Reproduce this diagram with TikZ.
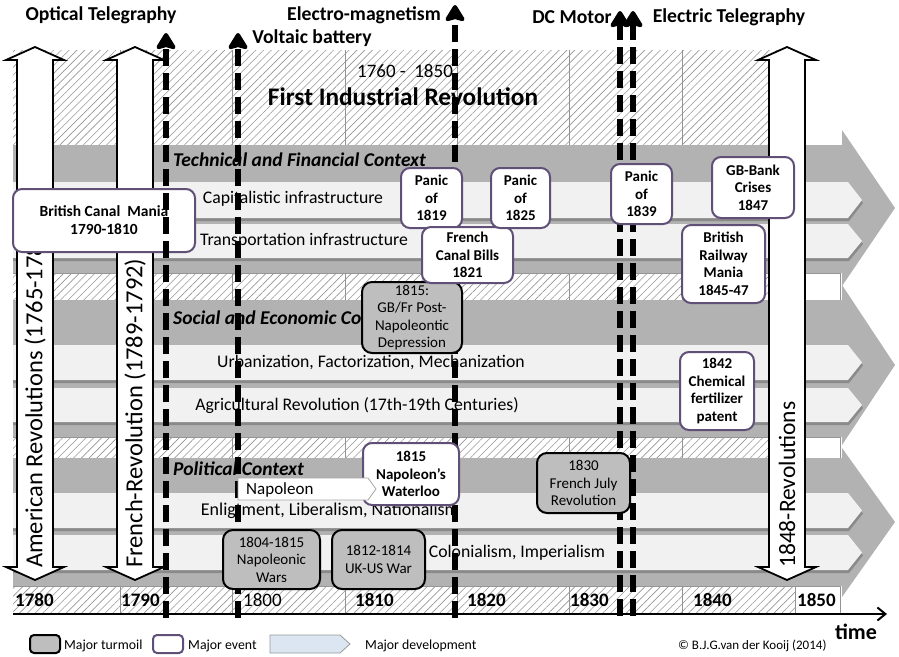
\documentclass[tikz,border=0pt]{standalone}
\usepackage{fontspec}
\setmainfont{Carlito}
\usetikzlibrary{arrows.meta,patterns.meta}

\definecolor{bandgray}{RGB}{178,178,178}
\definecolor{barlight}{RGB}{241,241,241}
\definecolor{barshadow}{RGB}{138,138,138}
\definecolor{hatchgray}{RGB}{150,150,150}
\definecolor{evcol}{RGB}{96,80,120}
\definecolor{turmfill}{RGB}{190,190,190}
\definecolor{devblue}{RGB}{220,230,242}

\tikzset{
  hatch/.style={pattern={Lines[angle=45,distance=5.5pt,line width=0.6pt]}, pattern color=hatchgray},
  gridline/.style={draw=gray!85, line width=0.7pt},
  evt/.style={draw=evcol, line width=2pt, fill=white, rounded corners=9pt, align=center,
              font=\bfseries\fontsize{15}{17.5}\selectfont, inner sep=0pt},
  turm/.style={draw=black, line width=2pt, fill=turmfill, rounded corners=10pt, align=center,
               font=\fontsize{15}{17.5}\selectfont, inner sep=0pt},
  bartext/.style={font=\fontsize{17.7}{20}\selectfont, inner sep=0pt},
  bandtitle/.style={font=\bfseries\itshape\fontsize{19.5}{22}\selectfont, anchor=west, inner sep=0pt},
  toplabel/.style={font=\bfseries\fontsize{19.7}{22}\selectfont, inner sep=0pt},
  yearlabel/.style={font=\bfseries\fontsize{19}{21}\selectfont, anchor=west, inner sep=0pt},
  revtext/.style={font=\fontsize{24.5}{27}\selectfont, rotate=90, anchor=west, inner sep=0pt},
  whitearrow/.style={draw=black, line width=1.8pt, fill=white, line join=miter},
  dasharrow/.style={line width=6pt, dash pattern=on 17pt off 7pt,
                    -{Stealth[length=19pt,width=23pt,inset=3pt,round]}},
  legendtext/.style={font=\fontsize{13.8}{16}\selectfont, anchor=west, inner sep=0pt}
}

\begin{document}
\begin{tikzpicture}[x=1pt,y=-1pt]
\useasboundingbox (0,0) rectangle (899,656);
\fill[white] (0,0) rectangle (899,656);

% ---- hatched time backdrop with decade columns
\fill[hatch] (13,50) rectangle (795,614);
\foreach \gx in {120,232,345,457,569,682}
  \draw[gridline] (\gx,50) -- (\gx,614);
\foreach \ya/\yb in {273/300,437/458,586/614} {
  \draw[gridline, fill=white] (795,\ya) rectangle (840,\yb);
  \draw[gridline] (13,\ya) -- (795,\ya);
  \draw[gridline] (13,\yb) -- (795,\yb);
}

% ---- three context bands
\fill[bandgray] (13,145) -- (842,145) -- (842,130) -- (895,208) -- (842,286) -- (842,273) -- (13,273) -- cycle;
\fill[bandgray] (13,300) -- (842,300) -- (842,285) -- (895,365) -- (842,445) -- (842,437) -- (13,437) -- cycle;
\fill[bandgray] (13,458) -- (842,458) -- (842,448) -- (895,522) -- (842,597) -- (842,586) -- (13,586) -- cycle;

% ---- development bars inside the bands
\foreach \t/\b in {182/218,224/258,345/380,388/422,493/528,535/570} {
  \fill[barshadow] (13,\t+3) -- (849,\t+3) -- (863,{(\t+\b)/2+3}) -- (849,\b+3) -- (13,\b+3) -- cycle;
  \fill[barlight] (13,\t) -- (848,\t) -- (862,{(\t+\b)/2}) -- (848,\b) -- (13,\b) -- cycle;
}

\node[bandtitle] (t1) at (173,160) {Technical and Financial Context};
\node[bandtitle] (t2) at (173,318) {Social and Economic Context};
\node[bandtitle] (t3) at (173,469) {Political Context};

\node[bartext] (capi) at (293,199) {Capitalistic infrastructure};
\node[bartext] (trans) at (304,241) {Transportation infrastructure};
\node[bartext] (urban) at (371,362) {Urbanization, Factorization, Mechanization};
\node[bartext] (agri) at (357,406) {Agricultural Revolution (17th-19th Centuries)};
\node[bartext, font=\fontsize{18}{20}\selectfont] (enli) at (330,511) {Enligtment, Liberalism, Nationalism};
\node[bartext] (colo) at (517,553) {Colonialism, Imperialism};

% ---- headings above the timeline
\node[toplabel] (optl) at (101,15) {Optical Telegraphy};
\node[toplabel] (elml) at (364,15) {Electro-magnetism};
\node[toplabel] (voll) at (312,38) {Voltaic battery};
\node[toplabel] (dcml) at (572,17) {DC Motor};
\node[toplabel] (etel) at (729,17) {Electric Telegraphy};
\node[font=\fontsize{19}{21}\selectfont, inner sep=0pt] (period) at (405,71) {1760 -~ 1850};
\node[font=\bfseries\fontsize{25.3}{28}\selectfont, inner sep=0pt] (title) at (403,97) {First Industrial Revolution};

% ---- decade labels
\node[yearlabel] (y1780) at (15,600) {1780};
\node[yearlabel] (y1790) at (121,600) {1790};
\node[yearlabel, font=\fontsize{19}{21}\selectfont] (y1800) at (243,600) {1800};
\node[yearlabel] (y1810) at (355,600) {1810};
\node[yearlabel] (y1820) at (467,600) {1820};
\node[yearlabel] (y1830) at (570,600) {1830};
\node[yearlabel] (y1840) at (693,600) {1840};
\node[yearlabel] (y1850) at (797,600) {1850};

% ---- revolutions (double headed block arrows)
\foreach \c in {35,135,787}
  \draw[whitearrow] (\c,47) -- (\c+29,60) -- (\c+18,60) -- (\c+18,567) -- (\c+29,567) -- (\c,580)
        -- (\c-29,567) -- (\c-18,567) -- (\c-18,60) -- (\c-29,60) -- cycle;
\node[revtext] (amrev) at (35,568) {American Revolutions (1765-1783)};
\node[revtext] (frrev) at (135,568) {French-Revolution (1789-1792)};
\node[revtext, font=\fontsize{23.5}{26}\selectfont] (rev48) at (787,568) {1848-Revolutions};

% ---- canal mania
\node[evt, font=\bfseries\fontsize{15.5}{18}\selectfont, minimum width=182pt, minimum height=63pt] (canal) at (104,220.5) {British Canal~ Mania\\1790-1810};

% ---- inventions (dashed arrows)
\coordinate (optb) at (166,618);  \coordinate (optt) at (166,33);
\coordinate (volb) at (238,618);  \coordinate (volt) at (238,33);
\coordinate (elmb) at (455,618);  \coordinate (elmt) at (455,5);
\coordinate (dcab) at (620,616);  \coordinate (dcat) at (620,11);
\coordinate (dcbb) at (633,616);  \coordinate (dcbt) at (633,11);
\draw[dasharrow] (optb) -- (optt);
\draw[dasharrow] (volb) -- (volt);
\draw[dasharrow] (elmb) -- (elmt);
\draw[dasharrow] (dcab) -- (dcat);
\draw[dasharrow] (dcbb) -- (dcbt);

% ---- turmoil
\node[turm, minimum width=100pt, minimum height=71pt] (depr) at (412,317.5) {1815:\\GB/Fr Post-\\Napoleontic\\Depression};
\node[turm, minimum width=93pt, minimum height=60pt] (july) at (583.5,483) {1830\\French July\\Revolution};
\node[turm, minimum width=97pt, minimum height=59pt] (nwars) at (271.5,559.5) {1804-1815\\Napoleonic\\Wars};
\node[turm, minimum width=93pt, minimum height=59pt] (ukus) at (378.5,559.5) {1812-1814\\UK-US War};

% ---- events
\node[evt, minimum width=61pt, minimum height=60pt] (p1819) at (431.5,198) {Panic\\of\\1819};
\node[evt, minimum width=91pt, minimum height=56pt] (fcb) at (467.5,255) {French\\Canal Bills\\1821};
\node[evt, minimum width=59pt, minimum height=60pt] (p1825) at (520.5,198) {Panic\\of\\1825};
\node[evt, minimum width=61pt, minimum height=60pt] (p1839) at (641.5,194) {Panic\\of\\1839};
\node[evt, minimum width=82pt, minimum height=61pt] (gbbank) at (753,187.5) {GB-Bank\\Crises\\1847};
\node[evt, minimum width=83pt, minimum height=78pt] (rail) at (723.5,264) {British\\Railway\\Mania\\1845-47};
\node[evt, minimum width=74pt, minimum height=78pt] (chem) at (717,391) {1842\\Chemical\\fertilizer\\patent};
\node[evt, minimum width=96pt, minimum height=62pt] (water) at (411,474) {1815\\Napoleon’s\\Waterloo};

% ---- Napoleon period arrow
\draw[draw=gray!70, line width=0.8pt, fill=white] (238,478) -- (368,478) -- (376,489) -- (368,500) -- (238,500) -- cycle;
\node[font=\fontsize{17}{19}\selectfont, anchor=west, inner sep=0pt] (napo) at (246,489.5) {Napoleon};

% ---- time axis
\coordinate (ax0) at (13,614);
\coordinate (ax1) at (887,614);
\draw[line width=2pt, -{Straight Barb[length=8pt,width=13pt,line width=2pt]}] (ax0) -- (ax1);
\node[font=\bfseries\fontsize{22}{24}\selectfont, inner sep=0pt] (timel) at (856,632) {time};

% ---- legend
\draw[draw=black, line width=2pt, fill=turmfill, rounded corners=4pt] (30,635) rectangle (60,653);
\node[legendtext] (lg1) at (64,646) {Major turmoil};
\draw[draw=evcol, line width=2pt, fill=white, rounded corners=4pt] (153,635) rectangle (183,653);
\node[legendtext] (lg2) at (188,646) {Major event};
\draw[draw=gray!80, line width=0.8pt, fill=devblue] (270,635) -- (340,635) -- (350,644) -- (340,653) -- (270,653) -- cycle;
\node[legendtext] (lg3) at (365,646) {Major development};
\node[font=\fontsize{13}{15}\selectfont, anchor=west, inner sep=0pt] (copy) at (678,646) {© B.J.G.van der Kooij (2014)};
\end{tikzpicture}
\end{document}
